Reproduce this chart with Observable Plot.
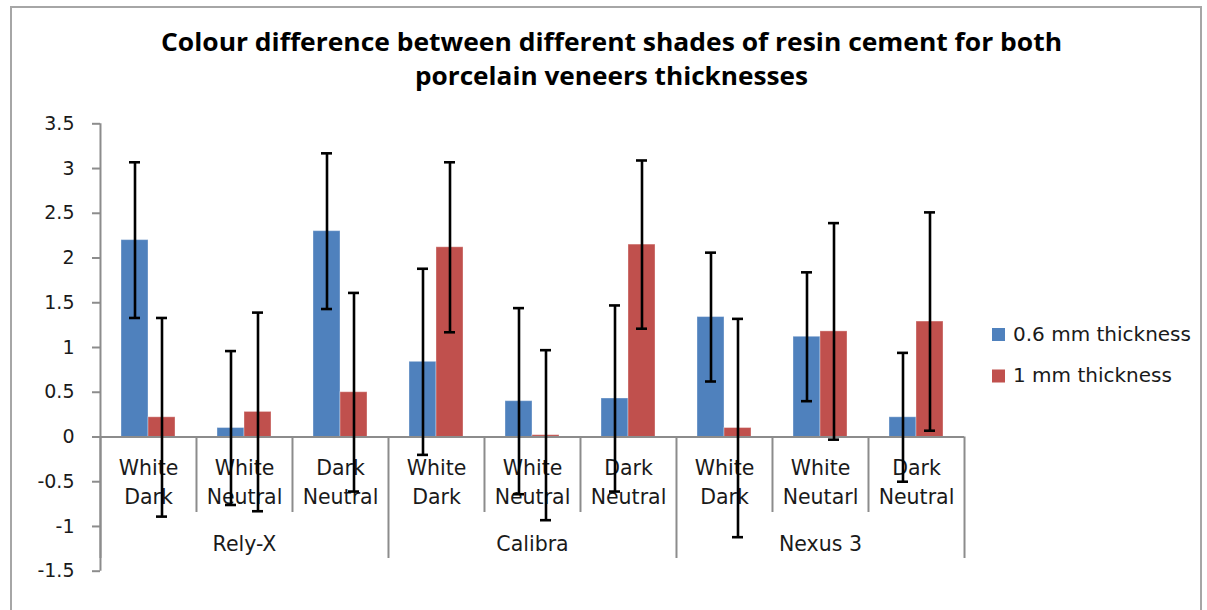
<!DOCTYPE html>
<html><head><meta charset="utf-8">
<script src="https://cdn.jsdelivr.net/npm/d3@7"></script>
<script src="https://cdn.jsdelivr.net/npm/@observablehq/plot@0.6"></script>
<style>
body{margin:0;background:#fff;}
#wrap{position:relative;width:1207px;height:610px;overflow:hidden;font-family:"DejaVu Sans",sans-serif;}
#bg{position:absolute;left:0;top:0;}
#plot{position:absolute;left:0;top:100px;}
</style></head>
<body><div id="wrap"><svg id="bg" width="1207" height="610"></svg><div id="plot"></div></div>
<script>
// ---- data ----
const titleLines = ["Colour difference between different shades of resin cement for both", "porcelain veneers thicknesses"];
const groupNames = ["Rely-X", "Calibra", "Nexus 3"];
const groupOf = ["Rely-X","Rely-X","Rely-X","Calibra","Calibra","Calibra","Nexus 3","Nexus 3","Nexus 3"];
const shadeLabels = ["White\nDark","White\nNeutral","Dark\nNeutral","White\nDark","White\nNeutral","Dark\nNeutral","White\nDark","White\nNeutarl","Dark\nNeutral"];
const seriesNames = ["0.6 mm thickness", "1 mm thickness"];
const seriesColors = ["#4f81bd", "#c0504d"];
const thinMean = [2.2, 0.1, 2.3, 0.84, 0.4, 0.43, 1.34, 1.12, 0.22];
const thinErr  = [0.87, 0.86, 0.87, 1.04, 1.04, 1.04, 0.72, 0.72, 0.72];
const thickMean = [0.22, 0.28, 0.5, 2.12, 0.02, 2.15, 0.1, 1.18, 1.29];
const thickErr  = [1.11, 1.11, 1.11, 0.95, 0.95, 0.94, 1.22, 1.21, 1.22];
const yTicks = [-1.5, -1, -0.5, 0, 0.5, 1, 1.5, 2, 2.5, 3, 3.5];
const yTickLabels = ["-1.5","-1","-0.5","0","0.5","1","1.5","2","2.5","3","3.5"];

// ---- tables built from the arrays ----
const keys = shadeLabels.map((s, i) => i + "|" + s);
const rows = [];
keys.forEach((k, i) => {
  [[thinMean, thinErr], [thickMean, thickErr]].forEach(([m, e], j) => {
    rows.push({key: k, series: seriesNames[j], value: m[i], lo: m[i] - e[i], hi: m[i] + e[i]});
  });
});
const cats = keys.map((k, i) => ({key: k, label: shadeLabels[i], first: seriesNames[0], last: seriesNames[1], groupStart: i === 0 || groupOf[i] !== groupOf[i - 1]}));
const groupRows = groupNames.map(g => {
  const idx = groupOf.map((x, i) => x === g ? i : -1).filter(i => i >= 0);
  return {key: keys[idx[Math.floor(idx.length / 2)]], label: g};
});

// ---- layout (styles only) ----
const W = 1207, H = 490, mL = 98, mR = 242, mT = 23.3, mB = 19.3;
const step = (W - mL - mR) / keys.length;
const barW = 27.3;
const padOuter = (step / barW - 2) / 2;
const edge = step / 2 - barW / 2;
const axisGray = "#8c8c8c";
const txt = "#1a1a1a";

const chart = Plot.plot({
  width: W, height: H, marginLeft: mL, marginRight: mR, marginTop: mT, marginBottom: mB,
  style: {fontFamily: "DejaVu Sans", fontSize: "19px", color: txt, background: "transparent", overflow: "visible"},
  fx: {domain: keys, padding: 0, axis: null},
  x: {domain: seriesNames, paddingInner: 0, paddingOuter: padOuter, axis: null},
  y: {domain: [-1.5, 3.5]},
  color: {domain: seriesNames, range: seriesColors},
  marks: [
    Plot.barY(rows, {fx: "key", x: "series", y: "value", fill: "series", stroke: "#ffffff", strokeOpacity: 0.35, strokeWidth: 1}),
    Plot.ruleY([0], {stroke: axisGray, strokeWidth: 2}),
    // y-axis line (left of first category)
    Plot.ruleX(cats.filter((d, i) => i === 0), {fx: "key", x: "first", dx: -edge, stroke: axisGray, strokeWidth: 2}),
    // short category separators
    Plot.ruleX(cats.filter(d => !d.groupStart), {fx: "key", x: "first", dx: -edge, y1: () => 0, y2: () => 0, insetBottom: -75.5, stroke: axisGray, strokeWidth: 2}),
    // long group separators
    Plot.ruleX(cats.filter(d => d.groupStart), {fx: "key", x: "first", dx: -edge, y1: () => 0, y2: () => 0, insetBottom: -121.5, stroke: axisGray, strokeWidth: 2}),
    Plot.ruleX(cats.filter((d, i) => i === cats.length - 1), {fx: "key", x: "last", dx: edge, y1: () => 0, y2: () => 0, insetBottom: -121.5, stroke: axisGray, strokeWidth: 2}),
    Plot.text(cats, {fx: "key", y: () => 0, text: "label", lineAnchor: "top", dy: 17.5, fontSize: 20.5, lineHeight: 1.41, fill: txt}),
    Plot.text(groupRows, {fx: "key", y: () => 0, text: "label", lineAnchor: "top", dy: 99.4, fontSize: 20.5, fill: txt}),
    Plot.axisY(yTicks, {tickSize: 8, tickPadding: 18, tickFormat: d => yTickLabels[yTicks.indexOf(d)], stroke: axisGray, strokeWidth: 2, fontSize: 19, fill: txt}),
    Plot.ruleX(rows, {fx: "key", x: "series", y1: "lo", y2: "hi", stroke: "#000", strokeWidth: 2.6}),
    Plot.tickY(rows, {fx: "key", x: "series", y: "hi", stroke: "#000", strokeWidth: 2.6, insetLeft: 8, insetRight: 8}),
    Plot.tickY(rows, {fx: "key", x: "series", y: "lo", stroke: "#000", strokeWidth: 2.6, insetLeft: 8, insetRight: 8})
  ]
});
document.getElementById("plot").appendChild(chart);

// ---- background: frame, title, legend ----
const bg = d3.select("#bg");
bg.append("path").attr("d", "M11,612 L11,7 L1201,7 L1201,612").attr("fill", "none").attr("stroke", "#a6a6a6").attr("stroke-width", 2);
const titleSpec = [{x: 161, y: 50.7, len: 901}, {x: 415, y: 84.5, len: 393}];
titleLines.forEach((t, i) => {
  bg.append("text").attr("x", titleSpec[i].x).attr("y", titleSpec[i].y)
    .attr("textLength", titleSpec[i].len).attr("lengthAdjust", "spacingAndGlyphs")
    .attr("font-family", "'Open Sans', 'DejaVu Sans', sans-serif").attr("font-weight", "bold").attr("font-size", 24.5)
    .attr("fill", "#000").text(t);
});
const colorScale = chart.scale("color");
seriesNames.forEach((s, i) => {
  const y0 = 328 + i * 41.5;
  bg.append("rect").attr("x", 992).attr("y", y0).attr("width", 13).attr("height", 13).attr("fill", colorScale.range[i]);
  bg.append("text").attr("x", 1013).attr("y", y0 + 12.5).attr("font-family", "'DejaVu Sans', sans-serif").attr("font-size", 20).attr("fill", txt).text(s);
});
</script>
</body></html>
